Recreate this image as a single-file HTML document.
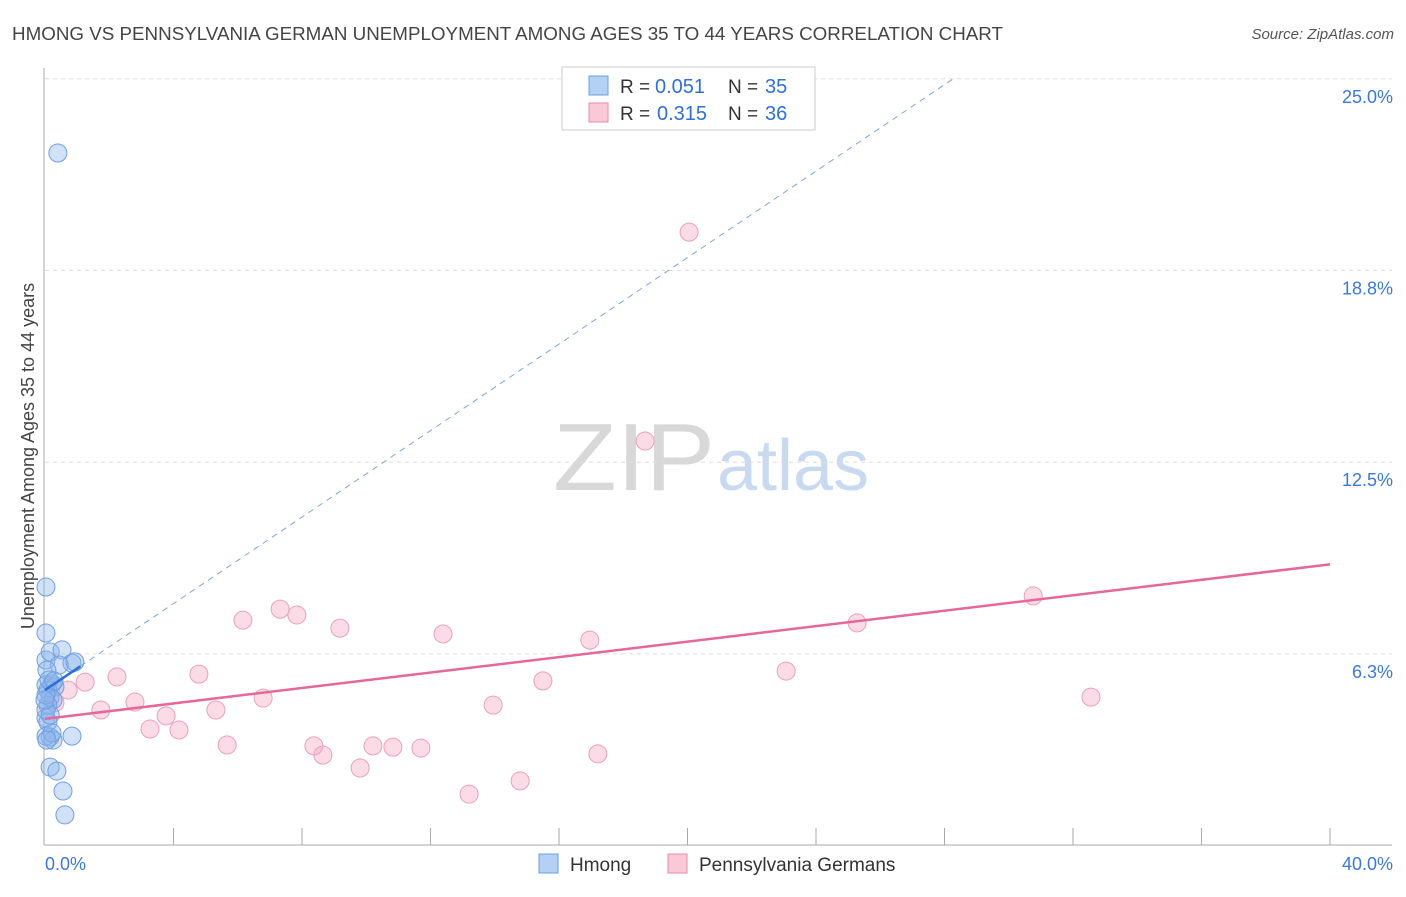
<!DOCTYPE html>
<html><head><meta charset="utf-8"><style>
body{margin:0;background:#fff;font-family:"Liberation Sans",sans-serif}
svg text{font-family:"Liberation Sans",sans-serif}
</style></head><body>
<svg id="chart" width="1406" height="892" xmlns="http://www.w3.org/2000/svg">
<text x="12" y="40" font-size="18" fill="#444" textLength="991" lengthAdjust="spacingAndGlyphs">HMONG VS PENNSYLVANIA GERMAN UNEMPLOYMENT AMONG AGES 35 TO 44 YEARS CORRELATION CHART</text>
<text x="1394" y="39" font-size="15" fill="#555" text-anchor="end" font-style="italic">Source: ZipAtlas.com</text>
<g><text x="553" y="490" font-size="96" fill="#d8d8d8" font-family="Liberation Serif,serif" textLength="162" lengthAdjust="spacingAndGlyphs">ZIP</text><text x="717" y="490" font-size="72" fill="#c9daf0">atlas</text></g>
<g id="grid"></g>
<g id="axes"></g>
<g id="marks"></g>
<text transform="translate(34,456) rotate(-90)" font-size="18" fill="#444" text-anchor="middle">Unemployment Among Ages 35 to 44 years</text>
<g>
<rect x="562" y="67" width="253" height="63" fill="#fff" stroke="#ccc"/>
<rect x="589" y="76" width="19" height="19" fill="#b3d0f5" stroke="#6a9fe0"/>
<text x="620" y="93" font-size="19" fill="#333">R =</text><text x="655" y="93" font-size="20" fill="#2f6fd6">0.051</text>
<text x="728" y="93" font-size="19" fill="#333">N =</text><text x="765" y="93" font-size="20" fill="#2f6fd6">35</text>
<rect x="589" y="103" width="19" height="19" fill="#f9c9d7" stroke="#ea8aa8"/>
<text x="620" y="120" font-size="19" fill="#333">R =</text><text x="657" y="120" font-size="20" fill="#2f6fd6">0.315</text>
<text x="728" y="120" font-size="19" fill="#333">N =</text><text x="765" y="120" font-size="20" fill="#2f6fd6">36</text>
</g>
<g>
<rect x="539" y="854" width="19" height="19" fill="#b3d0f5" stroke="#6a9fe0"/>
<text x="570" y="871" font-size="19" fill="#333">Hmong</text>
<rect x="668" y="854" width="19" height="19" fill="#f9c9d7" stroke="#ea8aa8"/>
<text x="699" y="871" font-size="19" fill="#333">Pennsylvania Germans</text>
</g>
</svg>
<script>
const yTicks=[6.25,12.5,18.75,25];
const yTickLabels=["6.3%","12.5%","18.8%","25.0%"];
const xLabels=["0.0%","40.0%"];
const hmongX=[0.40,0.03,0.03,0.03,0.16,0.53,0.84,0.93,0.03,0.22,0.31,0.09,0.16,0.25,0.03,0.09,0.16,0.03,0.25,0.84,0.16,0.37,0.56,0.62,0.09,0.03,0.16,0.44,0.06,0.03,0.22,0.06,0.12,0.28,0.00];
const hmongY=[22.58,8.43,6.93,6.05,6.31,6.38,5.95,5.99,5.24,5.27,5.17,5.07,4.84,4.75,4.16,4.03,3.54,3.57,3.44,3.57,2.56,2.43,1.78,1.00,4.58,4.42,4.26,5.89,5.72,4.91,3.67,3.44,5.40,5.37,4.75];
const paX=[20.05,18.68,30.76,25.28,7.32,7.84,6.16,9.18,12.39,16.96,23.07,32.56,15.50,13.95,4.79,2.24,1.25,0.72,2.80,6.79,1.74,5.32,3.77,3.27,4.17,5.67,8.37,8.65,10.21,10.83,11.70,17.21,9.81,14.79,13.20,0.31];
const paY=[20.00,13.19,8.14,7.26,7.71,7.52,7.35,7.09,6.90,6.70,5.69,4.84,5.37,4.58,5.59,5.50,5.33,5.07,4.68,4.81,4.42,4.42,4.23,3.80,3.77,3.28,3.25,2.95,3.25,3.21,3.18,2.99,2.53,2.11,1.68,4.66];
const hmongTrend=[5.07,0.705];
const paTrend=[4.13,0.126];
const NS="http://www.w3.org/2000/svg";
const X=v=>45+v/40*1285;
const Y=v=>845.6-v/6.25*191.7;
function mk(p,t,a){const e=document.createElementNS(NS,t);for(const k in a)e.setAttribute(k,a[k]);p.appendChild(e);return e;}
const grid=document.getElementById('grid'),axes=document.getElementById('axes'),marks=document.getElementById('marks');
yTicks.forEach((t,i)=>{
 const l=mk(grid,'line',{x1:45,x2:1392,y1:Y(t),y2:Y(t),stroke:'#ddd','stroke-dasharray':'4,4'});
 
 
 const tx=mk(grid,'text',{x:1393,y:Y(t)+24,'font-size':18,fill:'#3b78d8','text-anchor':'end'});
 tx.textContent=yTickLabels[i];
 
 
});
const ax=mk(axes,'line',{x1:44,x2:44,y1:68,y2:845,stroke:'#aaa'});


const bx=mk(axes,'line',{x1:44,x2:1392,y1:845,y2:845,stroke:'#aaa'});


for(let i=1;i<=10;i++){const t=mk(axes,'line',{x1:X(i*4),x2:X(i*4),y1:828,y2:845,stroke:'#aaa'});
 
 }
[[0,'start',45],[40,'end',1393]].forEach((d,i)=>{const t=mk(axes,'text',{x:d[2],y:870,'font-size':18,fill:'#3b78d8','text-anchor':d[1]});t.textContent=xLabels[i];
 
 });
const xEnd=(25-hmongTrend[0])/hmongTrend[1];
const dl=mk(marks,'line',{x1:X(1.1),y1:Y(hmongTrend[0]+hmongTrend[1]*1.1),x2:X(xEnd),y2:Y(25),stroke:'#7aa6e4','stroke-width':1,'stroke-dasharray':'6,5'});


paX.forEach((x,i)=>{const c=mk(marks,'circle',{cx:X(x),cy:Y(paY[i]),r:9,fill:'rgba(246,168,192,0.4)',stroke:'#eaa0b8','stroke-width':1});
 
 });
hmongX.forEach((x,i)=>{const c=mk(marks,'circle',{cx:X(x),cy:Y(hmongY[i]),r:9,fill:'rgba(140,180,235,0.4)',stroke:'#6f9fe2','stroke-width':1});
 
 });
const pl=mk(marks,'line',{x1:X(0),y1:Y(paTrend[0]),x2:X(40),y2:Y(paTrend[0]+paTrend[1]*40),stroke:'#e4689a','stroke-width':2.5});


const hl=mk(marks,'line',{x1:X(0),y1:Y(hmongTrend[0]),x2:X(1.1),y2:Y(hmongTrend[0]+hmongTrend[1]*1.1),stroke:'#2a6fd6','stroke-width':2.5});


</script>
</body></html>
